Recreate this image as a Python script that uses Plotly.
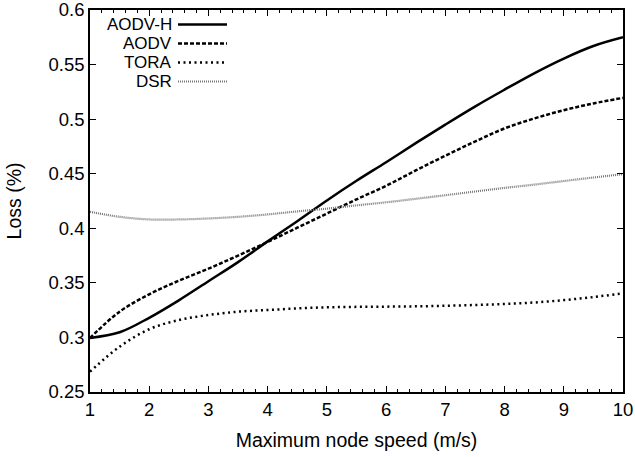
import plotly.graph_objects as go

speed = [1, 1.5, 2, 2.5, 3, 3.5, 4, 4.5, 5, 5.5, 6, 6.5, 7, 7.5, 8, 8.5, 9, 9.5, 10]
aodv_h = [0.2995, 0.3047, 0.3180, 0.3340, 0.3515, 0.3690, 0.3880, 0.4065, 0.4255, 0.4435,
          0.4605, 0.4780, 0.4950, 0.5115, 0.5270, 0.5420, 0.5555, 0.5670, 0.5750]
aodv = [0.2995, 0.3236, 0.3395, 0.3520, 0.3630, 0.3750, 0.3875, 0.4005, 0.4135, 0.4265,
        0.4389, 0.4530, 0.4665, 0.4795, 0.4915, 0.5006, 0.5082, 0.5144, 0.5195]
tora = [0.2686, 0.2915, 0.3075, 0.3159, 0.3205, 0.3236, 0.3251, 0.3266, 0.3276, 0.3280,
        0.3282, 0.3285, 0.3290, 0.3297, 0.3306, 0.3320, 0.3342, 0.3370, 0.3404]
dsr = [0.4151, 0.4105, 0.4081, 0.4081, 0.4090, 0.4105, 0.4127, 0.4155, 0.4180, 0.4210,
       0.4238, 0.4270, 0.4303, 0.4337, 0.4370, 0.4400, 0.4433, 0.4465, 0.4496]

names = ["AODV-H", "AODV", "TORA", "DSR"]
series = [aodv_h, aodv, tora, dsr]
styles = [
    dict(color="black", width=2.5, dash="solid"),
    dict(color="black", width=2.5, dash="4px,2px"),
    dict(color="black", width=2.5, dash="2px,3.5px"),
    dict(color="#777777", width=2.2, dash="1px,1px"),
]

FONT = "Liberation Sans, Arial, Helvetica, sans-serif"
W, H = 635, 457
L, R, T, B = 90, 12, 10, 65

fig = go.Figure()
for n, s, st in zip(names, series, styles):
    fig.add_trace(go.Scatter(x=speed, y=s, mode="lines", name=n,
                             line=dict(shape="spline", smoothing=1.0, **st),
                             showlegend=False))

# legend drawn manually (samples to the right of right-aligned labels)
pw, ph = W - L - R, H - T - B
def px_to_paper(px, py):
    return (px - L) / pw, (H - B - py) / ph

leg_rows_py = [24.5, 43.5, 62.5, 81.5]
for n, st, py in zip(names, styles, leg_rows_py):
    tx, ty = px_to_paper(173, py)
    fig.add_annotation(x=tx, y=ty, xref="paper", yref="paper", text=n,
                       showarrow=False, xanchor="right", yanchor="middle",
                       borderpad=0,
                       font=dict(family=FONT, size=17, color="black"))
    x0, y0 = px_to_paper(178, py)
    x1, _ = px_to_paper(227, py)
    fig.add_shape(type="line", xref="paper", yref="paper", x0=x0, x1=x1, y0=y0, y1=y0,
                  line=st)

axis_common = dict(
    showline=True, linecolor="black", linewidth=1.5, mirror="ticks",
    ticks="inside", ticklen=6, tickwidth=1.2, tickcolor="black",
    showgrid=False, zeroline=False, ticklabeloverflow="allow",
    tickfont=dict(family=FONT, size=18.5, color="black"),
)

fig.update_xaxes(range=[1, 10], dtick=1, tick0=1,
                 title=dict(text="Maximum node speed (m/s)",
                            font=dict(family=FONT, size=19.5, color="black"), standoff=14),
                 minor=dict(ticks="inside", ticklen=3, dtick=0.2, tick0=1,
                            tickcolor="black", tickwidth=1),
                 **axis_common)
fig.update_yaxes(range=[0.25, 0.6], dtick=0.05, tick0=0.25,
                 title=dict(text="Loss (%)",
                            font=dict(family=FONT, size=19.5, color="black"), standoff=22),
                 **axis_common)

fig.update_layout(width=W, height=H, margin=dict(l=L, r=R, t=T, b=B, autoexpand=False),
                  plot_bgcolor="white", paper_bgcolor="white",
                  font=dict(family=FONT, color="black"))

fig.write_html("out.html")
